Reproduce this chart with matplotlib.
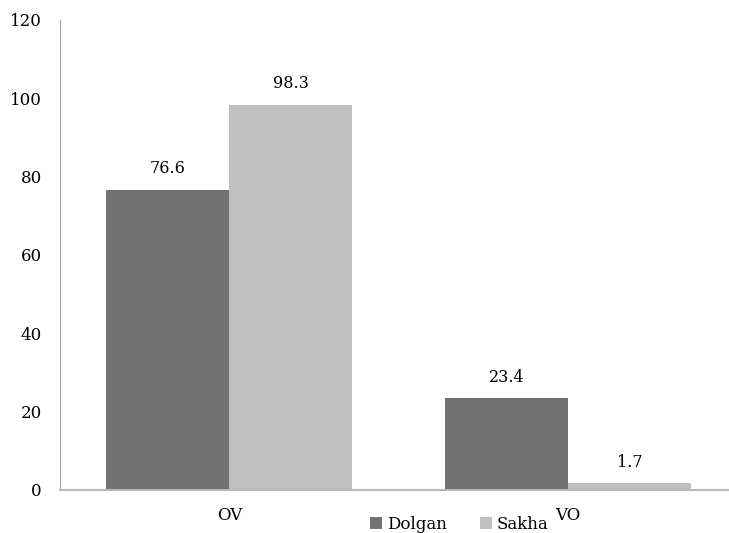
import matplotlib
matplotlib.use("Agg")
import matplotlib.pyplot as plt
import numpy as np

# ----------------------------
# Data
# ----------------------------
categories = ["OV", "VO"]
dolgan = [76.6, 23.4]
sakha = [98.3, 1.7]
yticks = [0, 20, 40, 60, 80, 100, 120]

plt.rcParams['font.family'] = ['DejaVu Serif']
plt.rcParams['font.size'] = 12

fig = plt.figure(figsize=(7.29, 5.33), dpi=100)
ax = fig.add_axes([0.0823, 0.0807, 0.9294, 0.8818])

x = np.arange(len(categories))
bar_w = 0.363

b_dol = ax.bar(x - bar_w / 2, dolgan, width=bar_w, color='#737373', label='Dolgan')
b_sak = ax.bar(x + bar_w / 2, sakha, width=bar_w, color='#bfbfbf', label='Sakha')

for bars in (b_dol, b_sak):
    for b in bars:
        h = b.get_height()
        ax.annotate(f"{h:.1f}", (b.get_x() + b.get_width() / 2, h),
                    xytext=(0, 9), textcoords='offset points',
                    ha='center', va='bottom', fontsize=11.5)

ax.set_xlim(-0.5, 1.5)
ax.set_ylim(0, 120)
ax.set_yticks(yticks)
ax.set_xticks(x)
ax.set_xticklabels(categories)
ax.tick_params(axis='y', length=0, pad=13)
ax.tick_params(axis='x', length=0, pad=12)

for s in ('top', 'right'):
    ax.spines[s].set_visible(False)
ax.spines['left'].set_color('#a6a6a6')
ax.spines['bottom'].set_color('#b8b8b8')
ax.spines['bottom'].set_linewidth(1.5)

fig.legend([b_dol, b_sak], ['Dolgan', 'Sakha'], loc='center',
           bbox_to_anchor=(0.63, 0.016), ncol=2, frameon=False,
           handlelength=0.72, handleheight=0.72, handletextpad=0.3,
           columnspacing=2.0, borderpad=0)

fig.savefig("out.png", dpi=100)
